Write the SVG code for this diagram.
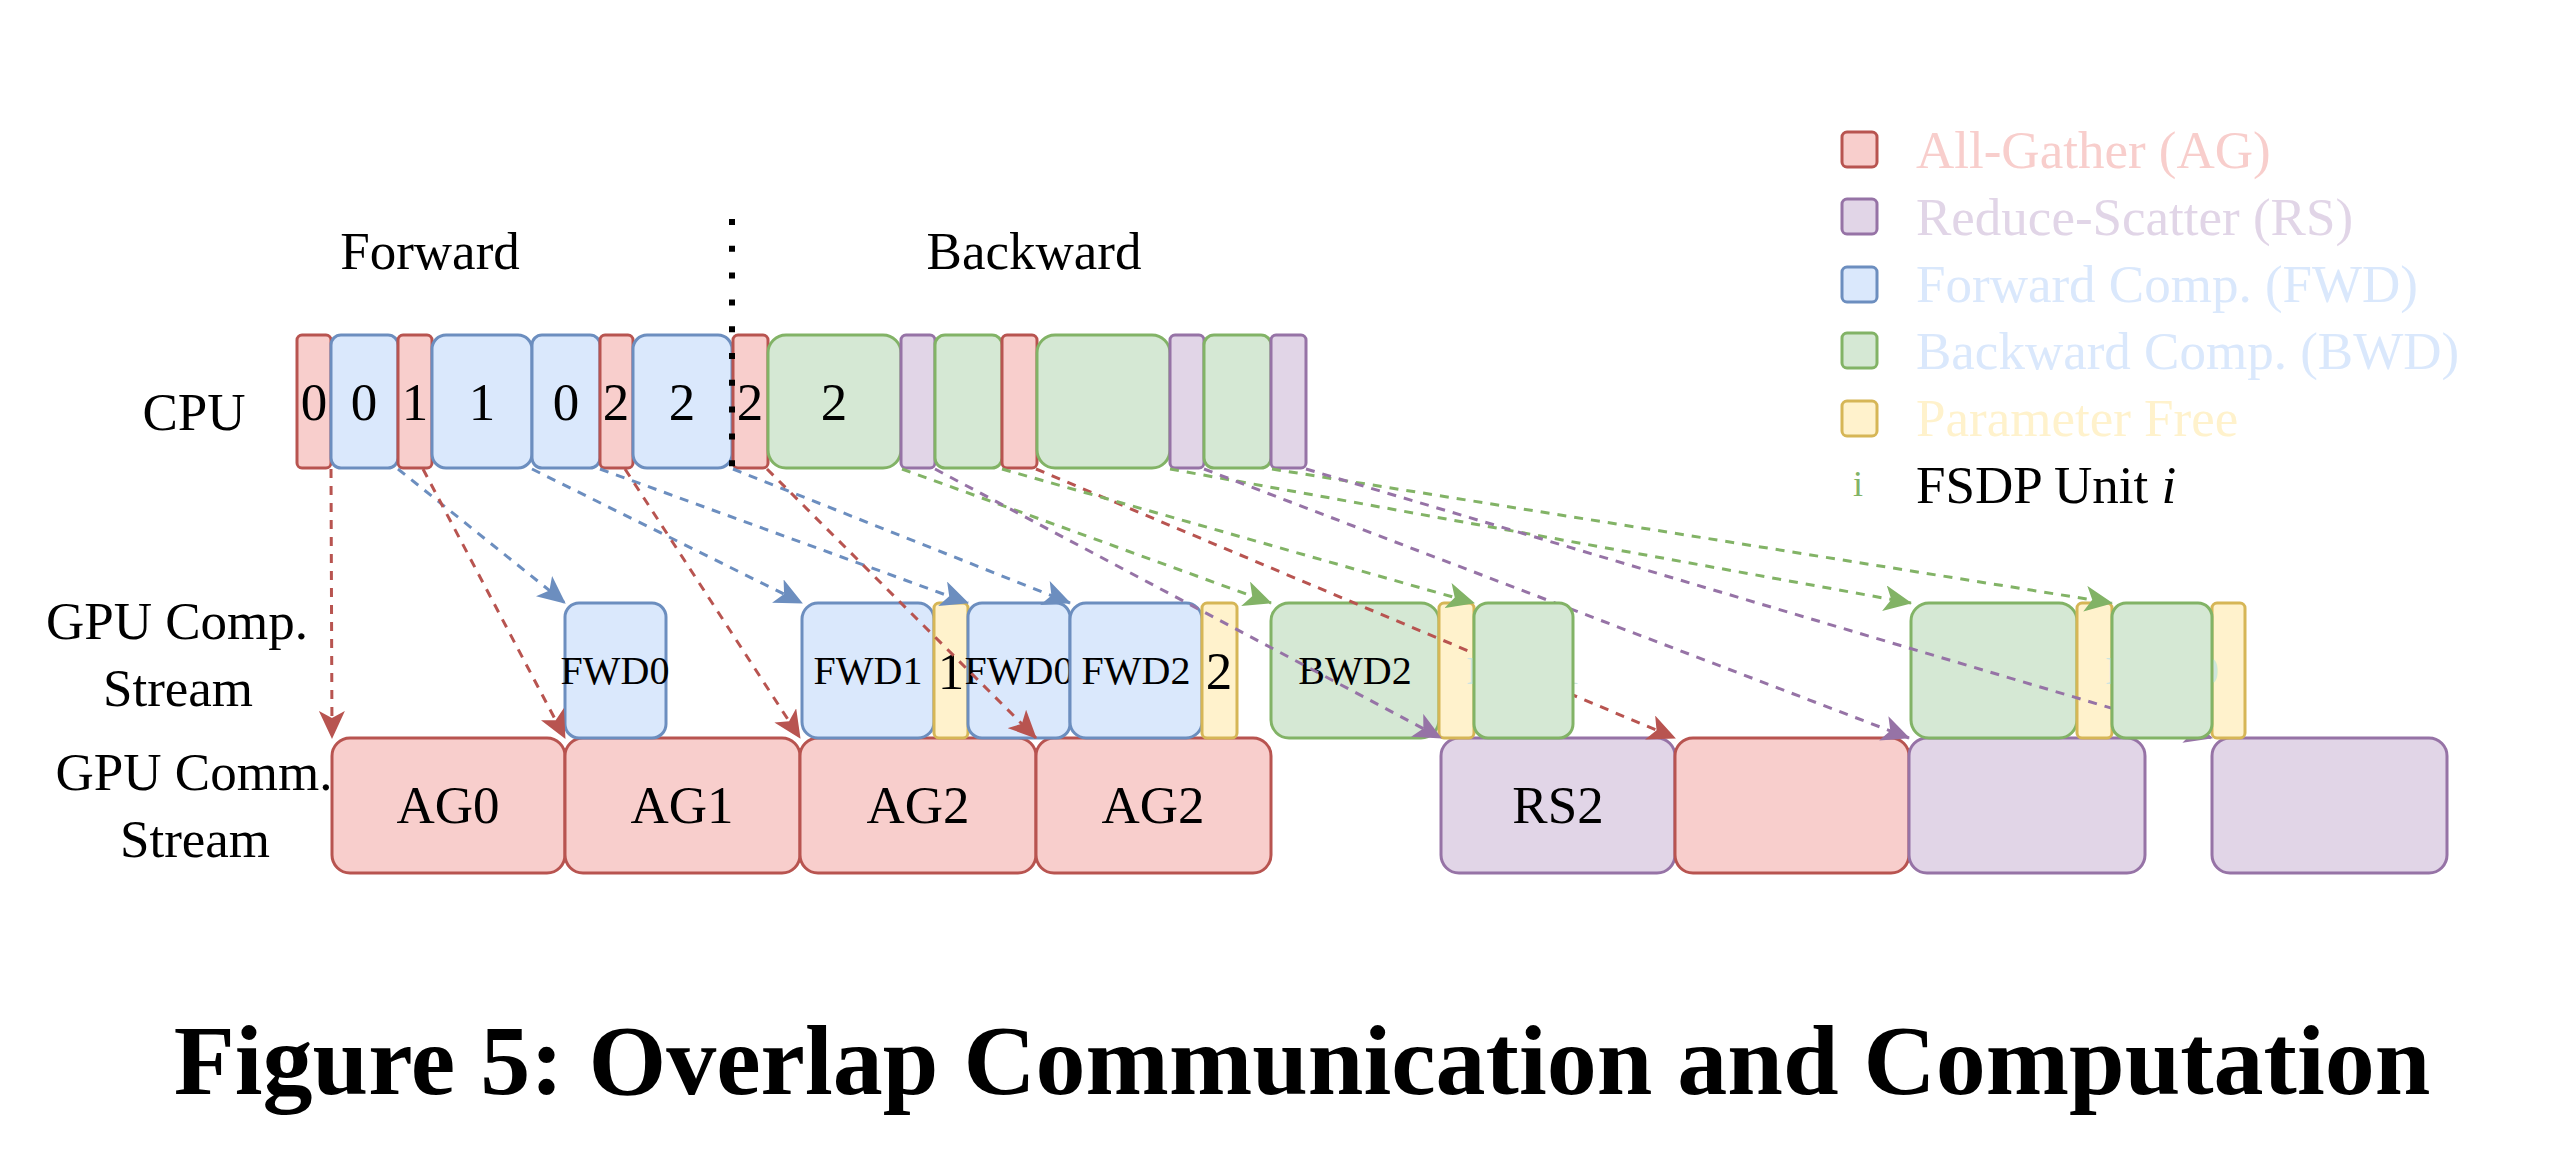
<svg xmlns="http://www.w3.org/2000/svg" width="2568" height="1172" viewBox="0 0 2568 1172">
<style>
rect{stroke-width:3}
.r{fill:#f8cecc;stroke:#b85450}
.p{fill:#e1d5e7;stroke:#9673a6}
.b{fill:#dae8fc;stroke:#6c8ebf}
.g{fill:#d5e8d4;stroke:#82b366}
.y{fill:#fff2cc;stroke:#d6b656}
text{font-family:"Liberation Serif","Times New Roman",serif;fill:#000}
.t53{font-size:53px}
.t40{font-size:40px}
.c{text-anchor:middle}
.e{fill:none;stroke-width:3;stroke-dasharray:9 8}
.er{stroke:#b85450}
.eb{stroke:#6c8ebf}
.eg{stroke:#82b366}
.ep{stroke:#9673a6}
.hid{fill:#cfe6de;font-size:40px;text-anchor:middle}
</style>
<defs>
<marker id="aR" markerUnits="userSpaceOnUse" markerWidth="28" markerHeight="26" viewBox="0 0 28 26" refX="27" refY="13" orient="auto"><path d="M0,0 L28,13 L0,26 L7,13 Z" fill="#b85450"/></marker>
<marker id="aB" markerUnits="userSpaceOnUse" markerWidth="28" markerHeight="26" viewBox="0 0 28 26" refX="27" refY="13" orient="auto"><path d="M0,0 L28,13 L0,26 L7,13 Z" fill="#6c8ebf"/></marker>
<marker id="aG" markerUnits="userSpaceOnUse" markerWidth="28" markerHeight="26" viewBox="0 0 28 26" refX="27" refY="13" orient="auto"><path d="M0,0 L28,13 L0,26 L7,13 Z" fill="#82b366"/></marker>
<marker id="aP" markerUnits="userSpaceOnUse" markerWidth="28" markerHeight="26" viewBox="0 0 28 26" refX="27" refY="13" orient="auto"><path d="M0,0 L28,13 L0,26 L7,13 Z" fill="#9673a6"/></marker>
</defs>
<rect x="0" y="0" width="2568" height="1172" fill="#ffffff" style="stroke:none"/>

<!-- labels -->
<g id="labels">
<text class="t53 c" x="430" y="269">Forward</text>
<text class="t53 c" x="1034" y="269">Backward</text>
<text class="t53 c" x="194" y="430">CPU</text>
<text class="t53 c" x="177" y="639">GPU Comp.</text>
<text class="t53 c" x="178" y="706">Stream</text>
<text class="t53 c" x="194" y="790">GPU Comm.</text>
<text class="t53 c" x="195" y="857">Stream</text>
</g>

<!-- CPU row -->
<g id="cpu-ag0"><rect class="r" x="297" y="335" width="34" height="133" rx="5"/><text class="t53 c" x="314" y="420">0</text></g>
<g id="cpu-fwd0"><rect class="b" x="331" y="335" width="67" height="133" rx="10"/><text class="t53 c" x="364" y="420">0</text></g>
<g id="cpu-ag1"><rect class="r" x="398" y="335" width="34" height="133" rx="5"/><text class="t53 c" x="415" y="420">1</text></g>
<g id="cpu-fwd1"><rect class="b" x="432" y="335" width="100" height="133" rx="14"/><text class="t53 c" x="482" y="420">1</text></g>
<g id="cpu-fwd0b"><rect class="b" x="532" y="335" width="68" height="133" rx="10"/><text class="t53 c" x="566" y="420">0</text></g>
<g id="cpu-ag2"><rect class="r" x="600" y="335" width="33" height="133" rx="5"/><text class="t53 c" x="616" y="420">2</text></g>
<g id="cpu-fwd2"><rect class="b" x="633" y="335" width="99" height="133" rx="14"/><text class="t53 c" x="682" y="420">2</text></g>
<g id="cpu-ag2b"><rect class="r" x="733" y="335" width="35" height="133" rx="5"/><text class="t53 c" x="750" y="420">2</text></g>
<g id="cpu-bwd2"><rect class="g" x="768" y="335" width="133" height="133" rx="18"/><text class="t53 c" x="834" y="420">2</text></g>
<g id="cpu-rs2"><rect class="p" x="901" y="335" width="34" height="133" rx="5"/></g>
<g id="cpu-bwd-a"><rect class="g" x="935" y="335" width="67" height="133" rx="10"/></g>
<g id="cpu-ag-b"><rect class="r" x="1002" y="335" width="35" height="133" rx="5"/></g>
<g id="cpu-bwd-b"><rect class="g" x="1037" y="335" width="133" height="133" rx="18"/></g>
<g id="cpu-rs-b"><rect class="p" x="1170" y="335" width="34" height="133" rx="5"/></g>
<g id="cpu-bwd-c"><rect class="g" x="1204" y="335" width="67" height="133" rx="10"/></g>
<g id="cpu-rs-c"><rect class="p" x="1271" y="335" width="35" height="133" rx="5"/></g>

<g id="divider"><line x1="732" y1="219" x2="732" y2="468" stroke="#000" stroke-width="6" stroke-dasharray="6 20.8"/></g>

<!-- GPU comm stream -->
<g id="comm-ag0"><rect class="r" x="332" y="738" width="233" height="135" rx="18"/><text class="t53 c" x="448" y="823">AG0</text></g>
<g id="comm-ag1"><rect class="r" x="565" y="738" width="235" height="135" rx="18"/><text class="t53 c" x="682" y="823">AG1</text></g>
<g id="comm-ag2"><rect class="r" x="800" y="738" width="236" height="135" rx="18"/><text class="t53 c" x="918" y="823">AG2</text></g>
<g id="comm-ag2b"><rect class="r" x="1036" y="738" width="235" height="135" rx="18"/><text class="t53 c" x="1153" y="823">AG2</text></g>
<g id="comm-rs2"><rect class="p" x="1441" y="738" width="234" height="135" rx="18"/><text class="t53 c" x="1558" y="823">RS2</text></g>
<g id="comm-ag-x"><rect class="r" x="1675" y="738" width="234" height="135" rx="18"/></g>
<g id="comm-rs-x"><rect class="p" x="1909" y="738" width="236" height="135" rx="18"/></g>
<g id="comm-rs-y"><rect class="p" x="2212" y="738" width="235" height="135" rx="18"/></g>

<!-- GPU comp stream -->
<g id="comp-fwd0"><rect class="b" x="565" y="603" width="101" height="135" rx="14"/><text class="t40 c" x="615" y="684">FWD0</text></g>
<g id="comp-fwd1"><rect class="b" x="802" y="603" width="132" height="135" rx="16"/><text class="t40 c" x="868" y="684">FWD1</text></g>
<g id="comp-free1"><rect class="y" x="934" y="603" width="34" height="135" rx="5"/><text class="t53 c" x="951" y="689">1</text></g>
<g id="comp-fwd0b"><rect class="b" x="968" y="603" width="102" height="135" rx="14"/><text class="t40 c" x="1019" y="684">FWD0</text></g>
<g id="comp-fwd2"><rect class="b" x="1070" y="603" width="132" height="135" rx="16"/><text class="t40 c" x="1136" y="684">FWD2</text></g>
<g id="comp-free2"><rect class="y" x="1202" y="603" width="35" height="135" rx="5"/><text class="t53 c" x="1219" y="689">2</text></g>
<g id="comp-bwd2"><rect class="g" x="1271" y="603" width="168" height="135" rx="18"/><text class="t40 c" x="1355" y="684">BWD2</text></g>
<g id="comp-free2b"><rect class="y" x="1439" y="603" width="35" height="135" rx="5"/></g>
<g id="comp-bwd-x"><rect class="g" x="1911" y="603" width="166" height="135" rx="18"/></g>
<g id="comp-free-x"><rect class="y" x="2077" y="603" width="35" height="135" rx="5"/></g>
<g id="comp-free-y"><rect class="y" x="2212" y="603" width="33" height="135" rx="5"/></g>

<!-- connectors -->
<g id="connectors">
<line class="e eb" x1="398" y1="469" x2="565" y2="603" marker-end="url(#aB)"/>
<line class="e eb" x1="532" y1="469" x2="802" y2="603" marker-end="url(#aB)"/>
<line class="e eb" x1="600" y1="469" x2="968" y2="603" marker-end="url(#aB)"/>
<line class="e eb" x1="733" y1="469" x2="1070" y2="603" marker-end="url(#aB)"/>
<line class="e er" x1="331" y1="469" x2="332" y2="738" marker-end="url(#aR)"/>
<line class="e er" x1="423" y1="469" x2="565" y2="738" marker-end="url(#aR)"/>
<line class="e er" x1="625" y1="469" x2="800" y2="738" marker-end="url(#aR)"/>
<line class="e er" x1="767" y1="469" x2="1036" y2="738" marker-end="url(#aR)"/>
<line class="e er" x1="1036" y1="469" x2="1675" y2="738" marker-end="url(#aR)"/>
<line class="e eg" x1="902" y1="469" x2="1271" y2="603" marker-end="url(#aG)"/>
<line class="e eg" x1="1002" y1="469" x2="1474" y2="603" marker-end="url(#aG)"/>
<line class="e eg" x1="1170" y1="469" x2="1911" y2="603" marker-end="url(#aG)"/>
<line class="e eg" x1="1272" y1="469" x2="2112" y2="603" marker-end="url(#aG)"/>
<line class="e ep" x1="935" y1="469" x2="1441" y2="738" marker-end="url(#aP)"/>
<line class="e ep" x1="1204" y1="469" x2="1909" y2="738" marker-end="url(#aP)"/>
<line class="e ep" x1="1306" y1="469" x2="2212" y2="738" marker-end="url(#aP)"/>
</g>

<g id="comp-bwd1"><text class="hid" x="1523" y="684">BWD1</text><rect class="g" x="1474" y="603" width="99" height="135" rx="14"/></g>
<g id="comp-bwd0"><text class="hid" x="2162" y="684">BWD0</text><rect class="g" x="2112" y="603" width="100" height="135" rx="14"/></g>

<!-- legend -->
<g id="legend-ag"><rect class="r" x="1842" y="132" width="35" height="35" rx="5"/><text class="t53" x="1916" y="168" style="fill:#f8cecc">All-Gather (AG)</text></g>
<g id="legend-rs"><rect class="p" x="1842" y="199" width="35" height="35" rx="5"/><text class="t53" x="1916" y="235" style="fill:#e1d5e7">Reduce-Scatter (RS)</text></g>
<g id="legend-fwd"><rect class="b" x="1842" y="267" width="35" height="35" rx="5"/><text class="t53" x="1916" y="302" style="fill:#dae8fc">Forward Comp. (FWD)</text></g>
<g id="legend-bwd"><rect class="g" x="1842" y="333" width="35" height="35" rx="5"/><text class="t53" x="1916" y="369" style="fill:#dae8fc">Backward Comp. (BWD)</text></g>
<g id="legend-free"><rect class="y" x="1842" y="401" width="35" height="35" rx="5"/><text class="t53" x="1916" y="436" style="fill:#fff2cc">Parameter Free</text></g>
<g id="legend-unit"><text x="1858" y="496" style="font-size:36px;fill:#82b366;text-anchor:middle">i</text><text class="t53" x="1916" y="503">FSDP Unit <tspan font-style="italic">i</tspan></text></g>

<g id="caption"><text x="1302" y="1094" style="font-size:100px;font-weight:bold;text-anchor:middle">Figure 5: Overlap Communication and Computation</text></g>
</svg>
